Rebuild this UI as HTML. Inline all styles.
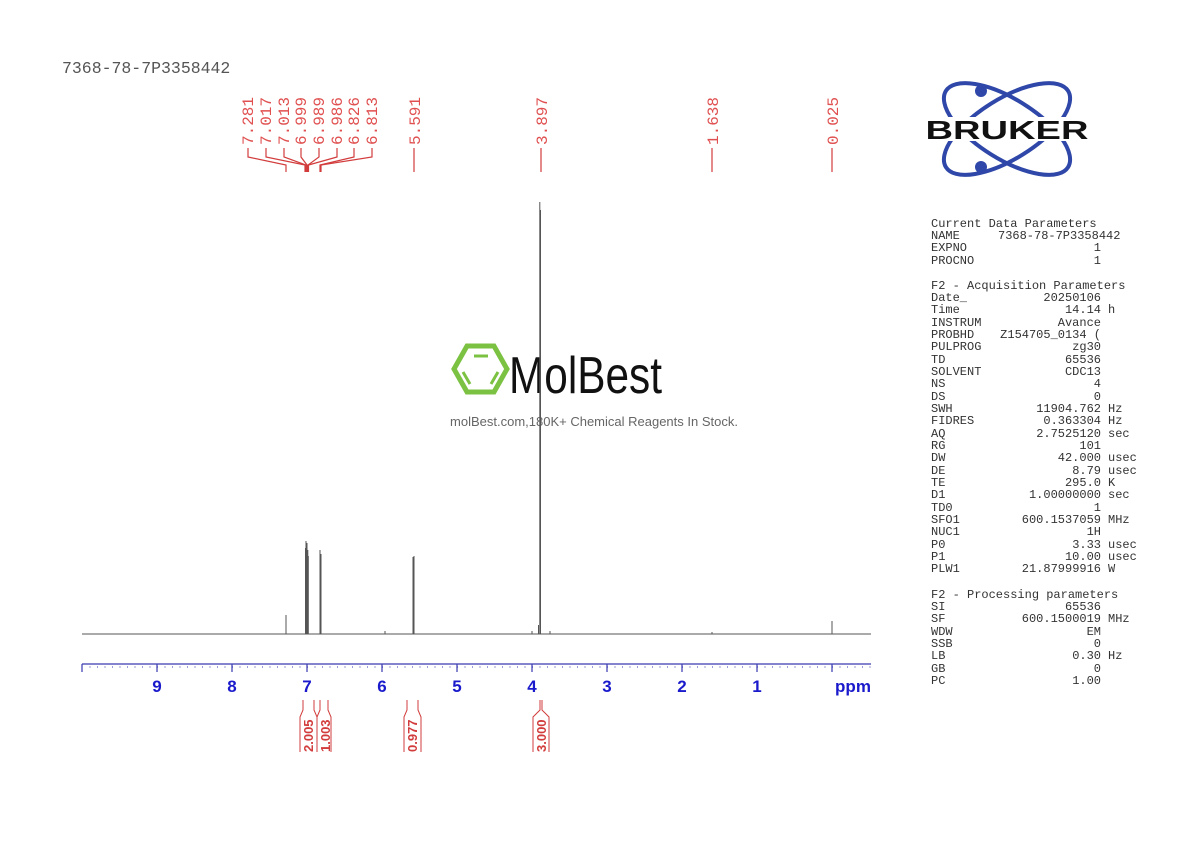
<!DOCTYPE html>
<html><head><meta charset="utf-8"><style>
html,body{margin:0;padding:0;background:#fff;width:1190px;height:842px;overflow:hidden}
svg{display:block}
</style></head><body>
<svg width="1190" height="842" viewBox="0 0 1190 842" xmlns="http://www.w3.org/2000/svg">
<text x="62" y="73" font-family="Liberation Mono, monospace" font-size="16.5" fill="#555">7368-78-7P3358442</text>

<!-- peak labels -->
<g font-family="Liberation Mono, monospace" font-size="16" fill="#e05050">
<text transform="translate(253,145) rotate(-90)">7.281</text>
<text transform="translate(271,145) rotate(-90)">7.017</text>
<text transform="translate(289,145) rotate(-90)">7.013</text>
<text transform="translate(306,145) rotate(-90)">6.999</text>
<text transform="translate(324,145) rotate(-90)">6.989</text>
<text transform="translate(342,145) rotate(-90)">6.986</text>
<text transform="translate(359,145) rotate(-90)">6.826</text>
<text transform="translate(377,145) rotate(-90)">6.813</text>
<text transform="translate(420,145) rotate(-90)">5.591</text>
<text transform="translate(547,145) rotate(-90)">3.897</text>
<text transform="translate(718,145) rotate(-90)">1.638</text>
<text transform="translate(838,145) rotate(-90)">0.025</text>
</g>
<g stroke="#d23c3c" stroke-width="1.2" fill="none">
<path d="M248,148 V157 L286,165 V172"/>
<path d="M266,148 V157 L305,165 V172"/>
<path d="M284,148 V157 L306,165 V172"/>
<path d="M301,148 V157 L307,165 V172"/>
<path d="M319,148 V157 L308,165 V172"/>
<path d="M337,148 V157 L308.5,165 V172"/>
<path d="M354,148 V157 L320,165 V172"/>
<path d="M372,148 V157 L321,165 V172"/>
<path d="M414,148 V172"/>
<path d="M541,148 V172"/>
<path d="M712,148 V172"/>
<path d="M832,148 V172"/>
</g>

<!-- watermark -->
<g>
<polygon points="467,346 494,346 507,369 494,392 467,392 454,369" fill="none" stroke="#7cc242" stroke-width="5"/>
<line x1="474" y1="356" x2="488" y2="356" stroke="#7cc242" stroke-width="3"/>
<line x1="463" y1="372" x2="470" y2="384" stroke="#7cc242" stroke-width="3"/>
<line x1="498" y1="372" x2="491" y2="384" stroke="#7cc242" stroke-width="3"/>
<text x="509" y="393" font-family="Liberation Sans Narrow, Liberation Sans, sans-serif" font-size="52" fill="#111" textLength="153" lengthAdjust="spacingAndGlyphs">MolBest</text>
<text x="594" y="426" text-anchor="middle" font-family="Liberation Sans, sans-serif" font-size="13" fill="#666">molBest.com,180K+ Chemical Reagents In Stock.</text>
</g>

<!-- spectrum -->
<g stroke="#555" stroke-width="1" fill="none">
<line x1="82" y1="634" x2="871" y2="634"/>
<path d="M286,634 V615"/>
<path d="M305.5,634 V548 M306,634 V541 M307,634 V543 M307.8,634 V550 M308.3,634 V556"/>
<path d="M320,634 V550 M321,634 V554"/>
<path d="M413,634 V557 M414,634 V556"/>
<path d="M539.8,634 V202 M540.5,634 V210 M538.5,634 V625"/>
<path d="M832,634 V621"/>
<path d="M385,634 V631 M532,634 V631 M550,634 V631 M712,634 V632"/>
</g>

<!-- axis -->
<g stroke="#3a3ab0" stroke-width="1.2">
<line x1="82" y1="664" x2="871" y2="664"/>
<path d="M82,664v8 M157,664v8 M232,664v8 M307,664v8 M382,664v8 M457,664v8 M532,664v8 M607,664v8 M682,664v8 M757,664v8 M832,664v8"/>
</g>
<g stroke="#3a3ab0" stroke-width="1" stroke-dasharray="1 6.5">
<line x1="89.5" y1="667" x2="871" y2="667"/>
</g>
<g font-family="Liberation Sans, sans-serif" font-weight="bold" font-size="17" fill="#1a1acc" text-anchor="middle">
<text x="157" y="692">9</text><text x="232" y="692">8</text><text x="307" y="692">7</text>
<text x="382" y="692">6</text><text x="457" y="692">5</text><text x="532" y="692">4</text>
<text x="607" y="692">3</text><text x="682" y="692">2</text><text x="757" y="692">1</text>
<text x="853" y="692">ppm</text>
</g>

<!-- integrals -->
<g stroke="#d23c3c" stroke-width="1" fill="none">
<path d="M300,752 V717 L303,710 V700 M314,700 V710 L317,717 V752"/>
<path d="M317,752 V717 L320,710 V700 M328,700 V710 L331,717 V752"/>
<path d="M404,752 V717 L407,710 V700 M418,700 V710 L421,717 V752"/>
<path d="M533,752 V717 L540,710 V700 M542,700 V710 L549,717 V752"/>
</g>
<g font-family="Liberation Sans, sans-serif" font-weight="bold" font-size="13" fill="#d23c3c">
<text transform="translate(313,752) rotate(-90)">2.005</text>
<text transform="translate(330,752) rotate(-90)">1.003</text>
<text transform="translate(417,752) rotate(-90)">0.977</text>
<text transform="translate(546,752) rotate(-90)">3.000</text>
</g>

<!-- Bruker logo -->
<g fill="none" stroke="#2f47a8" stroke-width="4">
<ellipse cx="1007" cy="129" rx="72" ry="30" transform="rotate(32 1007 129)"/>
<ellipse cx="1007" cy="129" rx="72" ry="30" transform="rotate(-32 1007 129)"/>
</g>
<circle cx="981" cy="91" r="6" fill="#2f47a8"/>
<circle cx="981" cy="167" r="6" fill="#2f47a8"/>
<rect x="926" y="117" width="163" height="24" fill="#fff"/>
<text x="1007" y="139" text-anchor="middle" font-family="Liberation Sans, sans-serif" font-weight="bold" font-size="26" fill="#111" textLength="163" lengthAdjust="spacingAndGlyphs">BRUKER</text>

<!-- parameters -->
<g font-family="Liberation Mono, monospace" font-size="12" fill="#333" transform="translate(0,5)">
<text x="931" y="222">Current Data Parameters</text>
<text x="931" y="234">NAME</text><text x="998" y="234">7368-78-7P3358442</text>
<text x="931" y="246">EXPNO</text><text x="1101" y="246" text-anchor="end">1</text>
<text x="931" y="259">PROCNO</text><text x="1101" y="259" text-anchor="end">1</text>

<text x="931" y="284">F2 - Acquisition Parameters</text>
<text x="931" y="296">Date_</text><text x="1101" y="296" text-anchor="end">20250106</text>
<text x="931" y="308">Time</text><text x="1101" y="308" text-anchor="end">14.14</text><text x="1108" y="308">h</text>
<text x="931" y="321">INSTRUM</text><text x="1101" y="321" text-anchor="end">Avance</text>
<text x="931" y="333">PROBHD</text><text x="1101" y="333" text-anchor="end">Z154705_0134 (</text>
<text x="931" y="345">PULPROG</text><text x="1101" y="345" text-anchor="end">zg30</text>
<text x="931" y="358">TD</text><text x="1101" y="358" text-anchor="end">65536</text>
<text x="931" y="370">SOLVENT</text><text x="1101" y="370" text-anchor="end">CDC13</text>
<text x="931" y="382">NS</text><text x="1101" y="382" text-anchor="end">4</text>
<text x="931" y="395">DS</text><text x="1101" y="395" text-anchor="end">0</text>
<text x="931" y="407">SWH</text><text x="1101" y="407" text-anchor="end">11904.762</text><text x="1108" y="407">Hz</text>
<text x="931" y="419">FIDRES</text><text x="1101" y="419" text-anchor="end">0.363304</text><text x="1108" y="419">Hz</text>
<text x="931" y="432">AQ</text><text x="1101" y="432" text-anchor="end">2.7525120</text><text x="1108" y="432">sec</text>
<text x="931" y="444">RG</text><text x="1101" y="444" text-anchor="end">101</text>
<text x="931" y="456">DW</text><text x="1101" y="456" text-anchor="end">42.000</text><text x="1108" y="456">usec</text>
<text x="931" y="469">DE</text><text x="1101" y="469" text-anchor="end">8.79</text><text x="1108" y="469">usec</text>
<text x="931" y="481">TE</text><text x="1101" y="481" text-anchor="end">295.0</text><text x="1108" y="481">K</text>
<text x="931" y="493">D1</text><text x="1101" y="493" text-anchor="end">1.00000000</text><text x="1108" y="493">sec</text>
<text x="931" y="506">TD0</text><text x="1101" y="506" text-anchor="end">1</text>
<text x="931" y="518">SFO1</text><text x="1101" y="518" text-anchor="end">600.1537059</text><text x="1108" y="518">MHz</text>
<text x="931" y="530">NUC1</text><text x="1101" y="530" text-anchor="end">1H</text>
<text x="931" y="543">P0</text><text x="1101" y="543" text-anchor="end">3.33</text><text x="1108" y="543">usec</text>
<text x="931" y="555">P1</text><text x="1101" y="555" text-anchor="end">10.00</text><text x="1108" y="555">usec</text>
<text x="931" y="567">PLW1</text><text x="1101" y="567" text-anchor="end">21.87999916</text><text x="1108" y="567">W</text>

<text x="931" y="593">F2 - Processing parameters</text>
<text x="931" y="605">SI</text><text x="1101" y="605" text-anchor="end">65536</text>
<text x="931" y="617">SF</text><text x="1101" y="617" text-anchor="end">600.1500019</text><text x="1108" y="617">MHz</text>
<text x="931" y="630">WDW</text><text x="1101" y="630" text-anchor="end">EM</text>
<text x="931" y="642">SSB</text><text x="1101" y="642" text-anchor="end">0</text>
<text x="931" y="654">LB</text><text x="1101" y="654" text-anchor="end">0.30</text><text x="1108" y="654">Hz</text>
<text x="931" y="667">GB</text><text x="1101" y="667" text-anchor="end">0</text>
<text x="931" y="679">PC</text><text x="1101" y="679" text-anchor="end">1.00</text>
</g>
</svg>
</body></html>
